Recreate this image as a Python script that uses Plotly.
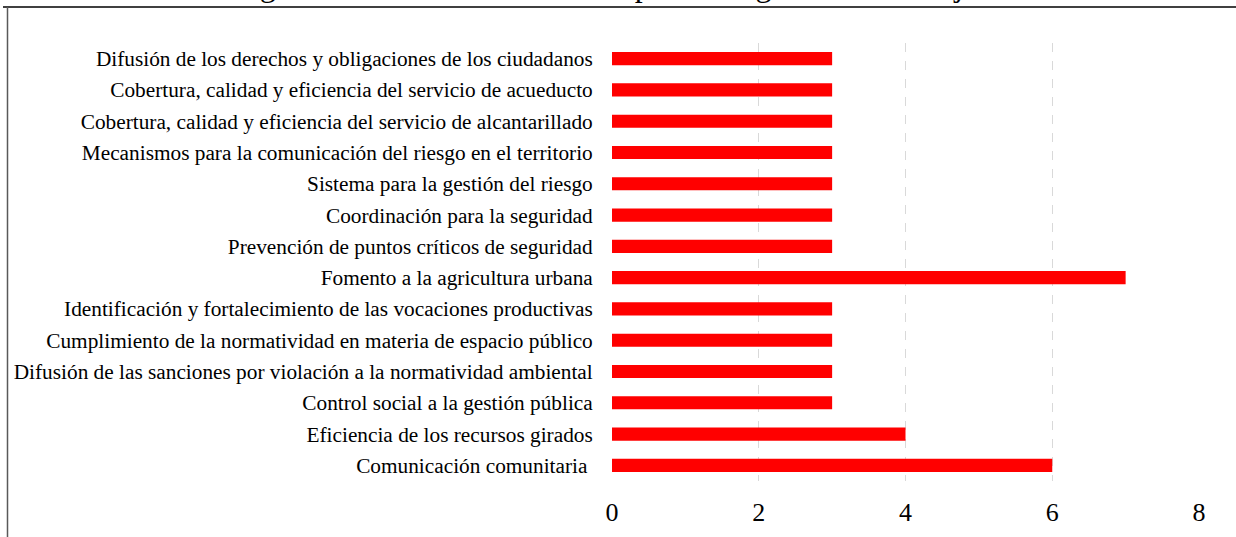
import plotly.graph_objects as go

categories = [
    "Comunicación comunitaria ",
    "Eficiencia de los recursos girados",
    "Control social a la gestión pública",
    "Difusión de las sanciones por violación a la normatividad ambiental",
    "Cumplimiento de la normatividad en materia de espacio público",
    "Identificación y fortalecimiento de las vocaciones productivas",
    "Fomento a la agricultura urbana",
    "Prevención de puntos críticos de seguridad",
    "Coordinación para la seguridad",
    "Sistema para la gestión del riesgo",
    "Mecanismos para la comunicación del riesgo en el territorio",
    "Cobertura, calidad y eficiencia del servicio de alcantarillado",
    "Cobertura, calidad y eficiencia del servicio de acueducto",
    "Difusión de los derechos y obligaciones de los ciudadanos",
]
values = [6, 4, 3, 3, 3, 3, 7, 3, 3, 3, 3, 3, 3, 3]
x_ticks = [0, 2, 4, 6, 8]
title_text = "Figura 37. Incidencia de temas para el seguimiento del eje"

W, H = 1236, 537
L, R, T, B = 612, 37, 43, 56
pw, ph = W - L - R, H - T - B
SERIF = "Liberation Serif, Times New Roman, serif"

def px(x):
    return (x - L) / pw

def py(y):
    return (H - B - y) / ph

fig = go.Figure(go.Bar(
    x=values, y=categories, orientation="h",
    marker=dict(color="#FF0000", line=dict(width=0)),
))

fig.update_layout(
    width=W, height=H,
    margin=dict(l=L, r=R, t=T, b=B),
    paper_bgcolor="white", plot_bgcolor="white",
    bargap=0.58,
    showlegend=False,
    font=dict(family=SERIF, color="black"),
    xaxis=dict(
        range=[0, 8], tickvals=x_ticks, showline=False, zeroline=False, automargin=False,
        showgrid=True, gridcolor="#D9D9D9", griddash="dash", gridwidth=1.3,
        tickfont=dict(size=26), ticks="outside", ticklen=8, tickcolor="rgba(0,0,0,0)",
    ),
    yaxis=dict(
        categoryorder="array", categoryarray=categories, automargin=False,
        showline=False, showgrid=False, zeroline=False,
        tickfont=dict(size=21.3), ticks="outside", ticklen=14, tickcolor="rgba(0,0,0,0)",
    ),
    shapes=[
        dict(type="line", xref="paper", yref="paper", x0=px(3), x1=px(1240), y0=py(7), y1=py(7),
             line=dict(color="#000000", width=1.5)),
        dict(type="line", xref="paper", yref="paper", x0=px(7.5), x1=px(7.5), y0=py(7), y1=py(540),
             line=dict(color="#595959", width=1.5)),
    ],
    annotations=[
        dict(text=title_text, xref="paper", yref="paper", x=px(605), y=py(-15),
             xanchor="center", yanchor="middle", showarrow=False,
             font=dict(size=32, family=SERIF, color="black")),
    ],
)

fig.write_html("out.html", config={"displayModeBar": False},
               post_script="document.body.style.margin='0';document.body.style.overflow='hidden';")
